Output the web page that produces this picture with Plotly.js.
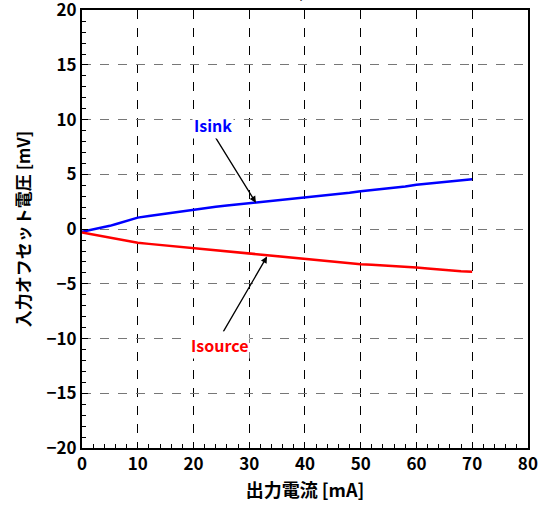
<!DOCTYPE html>
<html><head><meta charset="utf-8">
<script src="https://cdn.plot.ly/plotly-3.0.1.min.js"></script>
<style>html,body{margin:0;padding:0;background:#fff}</style>
</head><body>
<div id="chart" style="width:538px;height:515px"></div>
<script>
const currentMA = [0, 1, 2, 3, 4, 5, 6, 7, 8, 9, 10, 12, 14, 16, 18, 20, 22, 24, 26, 28, 30, 32, 34, 36, 38, 40, 42, 44, 46, 48, 50, 52, 54, 56, 58, 60, 62, 64, 66, 68, 70];
const isinkMV = [-0.25, -0.15, -0.05, 0.05, 0.15, 0.3, 0.45, 0.6, 0.75, 0.9, 1.05, 1.2, 1.35, 1.5, 1.65, 1.8, 1.95, 2.05, 2.15, 2.25, 2.35, 2.45, 2.55, 2.65, 2.78, 2.9, 3.0, 3.1, 3.2, 3.32, 3.45, 3.55, 3.65, 3.78, 3.9, 4.05, 4.15, 4.25, 4.35, 4.45, 4.55];
const isourceMV = [-0.3, -0.4, -0.5, -0.6, -0.7, -0.8, -0.9, -1.0, -1.1, -1.2, -1.25, -1.35, -1.45, -1.55, -1.6, -1.7, -1.8, -1.9, -2.0, -2.1, -2.2, -2.3, -2.4, -2.5, -2.6, -2.7, -2.8, -2.9, -3.0, -3.1, -3.2, -3.25, -3.3, -3.4, -3.45, -3.5, -3.6, -3.7, -3.75, -3.85, -3.9];
const seriesNames = ['Isink', 'Isource'];
const xTicks = [0, 10, 20, 30, 40, 50, 60, 70, 80];
const yTicks = [-20, -15, -10, -5, 0, 5, 10, 15, 20];

const font = {family: '"Noto Sans CJK JP", "DejaVu Sans", sans-serif', color: '#000'};
const traces = [
  {x: currentMA, y: isinkMV, name: seriesNames[0], mode: 'lines', line: {color: '#0000ff', width: 2.5}},
  {x: currentMA, y: isourceMV, name: seriesNames[1], mode: 'lines', line: {color: '#ff0000', width: 2.5}}
];
const axisCommon = {
  showline: true, linecolor: '#000', linewidth: 2, mirror: true,
  ticks: 'inside', ticklen: 6, tickcolor: '#000', tickwidth: 1,
  zeroline: false, showgrid: true, griddash: 'dash', gridwidth: 1,
  ticklabeloverflow: 'allow',
  tickfont: Object.assign({}, font, {size: 17, weight: 'bold'}),
  fixedrange: true
};
const layout = {
  width: 538, height: 515,
  margin: {l: 82, r: 10, t: 10, b: 67},
  paper_bgcolor: '#fff', plot_bgcolor: '#fff',
  showlegend: false,
  font: font,
  xaxis: Object.assign({}, axisCommon, {
    range: [0, 80.02], tickmode: 'array', tickvals: xTicks, ticktext: xTicks.map(String),
    gridcolor: '#000',
    minor: {dtick: 2, ticks: 'inside', ticklen: 4, tickcolor: '#000', showgrid: false},
    title: {text: '出力電流 [mA]', font: Object.assign({}, font, {size: 18, weight: 'bold'}), standoff: 10}
  }),
  yaxis: Object.assign({}, axisCommon, {
    range: [-20, 20.02], tickmode: 'array', tickvals: yTicks, ticktext: yTicks.map(v => v < 0 ? '−' + Math.abs(v) : String(v)),
    gridcolor: '#777',
    minor: {dtick: 1, ticks: 'inside', ticklen: 4, tickcolor: '#000', showgrid: false},
    title: {text: '入力オフセット電圧 [mV]', font: Object.assign({}, font, {size: 17, weight: 'bold'}), standoff: 12}
  }),
  annotations: [
    {x: 31.2, y: 2.4, ax: 23.8, ay: 8.5, axref: 'x', ayref: 'y', xref: 'x', yref: 'y',
     text: '', showarrow: true, arrowhead: 2, arrowsize: 1, arrowwidth: 1.3, arrowcolor: '#000'},
    {x: 33.2, y: -2.5, ax: 25.2, ay: -9.5, axref: 'x', ayref: 'y', xref: 'x', yref: 'y',
     text: '', showarrow: true, arrowhead: 2, arrowsize: 1, arrowwidth: 1.3, arrowcolor: '#000'},
    {x: 23.5, y: 9.5, xref: 'x', yref: 'y', text: seriesNames[0], showarrow: false, bgcolor: '#fff',
     font: Object.assign({}, font, {size: 16, weight: 'bold', color: '#0000ff'})},
    {x: 24.6, y: -10.6, xref: 'x', yref: 'y', text: seriesNames[1], showarrow: false, bgcolor: '#fff',
     font: Object.assign({}, font, {size: 16, weight: 'bold', color: '#ff0000'})},
    {x: 0.507, y: 1, xref: 'paper', yref: 'paper', yanchor: 'bottom', yshift: 5,
     text: 'V<sub>DD</sub>=5V, T<sub>A</sub>=25°C', showarrow: false,
     font: Object.assign({}, font, {size: 16, weight: 'bold'})}
  ]
};
Plotly.newPlot('chart', traces, layout, {displayModeBar: false, staticPlot: true});
</script>
</body></html>
